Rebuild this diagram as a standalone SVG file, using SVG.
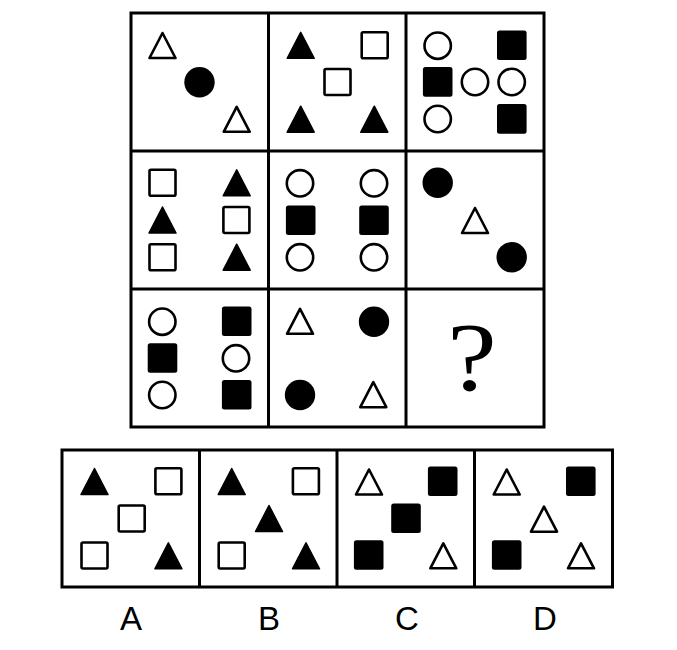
<svg xmlns="http://www.w3.org/2000/svg" xmlns:xlink="http://www.w3.org/1999/xlink" width="677" height="650" viewBox="0 0 677 650">
<style>
.frame{fill:none;stroke:#000;stroke-width:3}
.line{stroke:#000;stroke-width:3}
.lbl{font-family:"Liberation Sans","Noto Sans",sans-serif;font-size:33px;fill:#000;text-anchor:middle}
.q{font-family:"Liberation Serif","DejaVu Serif",serif;font-size:97px;fill:#000;text-anchor:middle}
</style>
<defs>
<polygon id="to" points="0,-12.5 13,12.5 -13,12.5" fill="#fff" stroke="#000" stroke-width="2.6" stroke-linejoin="round"/>
<polygon id="tf" points="0,-13 13.5,13 -13.5,13" fill="#000" stroke="#000" stroke-width="1.5" stroke-linejoin="round"/>
<rect id="so" x="-13" y="-13" width="26" height="26" rx="1.5" fill="#fff" stroke="#000" stroke-width="2.6"/>
<rect id="sf" x="-14.8" y="-14.8" width="29.6" height="29.6" rx="2.5" fill="#000"/>
<circle id="co" r="13.2" fill="#fff" stroke="#000" stroke-width="2.6"/>
<circle id="cf" r="15.2" fill="#000"/>
</defs>
<rect width="677" height="650" fill="#fff"/>

<g id="grid">
<rect class="frame" x="131" y="13" width="413" height="414"/>
<line class="line" x1="268.5" y1="13" x2="268.5" y2="427"/>
<line class="line" x1="406" y1="13" x2="406" y2="427"/>
<line class="line" x1="131" y1="151" x2="544" y2="151"/>
<line class="line" x1="131" y1="289" x2="544" y2="289"/>
</g>

<g id="cell-1-1">
<use xlink:href="#to" x="162.5" y="45.5"/>
<use xlink:href="#cf" x="199.5" y="82.3"/>
<use xlink:href="#to" x="236.7" y="119.3"/>
</g>
<g id="cell-1-2">
<use xlink:href="#tf" x="300.7" y="45.3"/>
<use xlink:href="#so" x="374.7" y="45.2"/>
<use xlink:href="#so" x="337.5" y="82"/>
<use xlink:href="#tf" x="300.7" y="119.2"/>
<use xlink:href="#tf" x="374.3" y="119.2"/>
</g>
<g id="cell-1-3">
<use xlink:href="#co" x="437.7" y="45.7"/>
<use xlink:href="#sf" x="511.8" y="45.2"/>
<use xlink:href="#sf" x="437.7" y="81.9"/>
<use xlink:href="#co" x="475" y="82"/>
<use xlink:href="#co" x="511.7" y="82"/>
<use xlink:href="#co" x="437.7" y="119"/>
<use xlink:href="#sf" x="511.8" y="118.9"/>
</g>
<g id="cell-2-1">
<use xlink:href="#so" x="162.5" y="182.8"/>
<use xlink:href="#tf" x="236.7" y="182.8"/>
<use xlink:href="#tf" x="162.5" y="220"/>
<use xlink:href="#so" x="236.4" y="220"/>
<use xlink:href="#so" x="162.5" y="257.2"/>
<use xlink:href="#tf" x="236.7" y="257.2"/>
</g>
<g id="cell-2-2">
<use xlink:href="#co" x="300" y="183.3"/>
<use xlink:href="#co" x="374" y="183.3"/>
<use xlink:href="#sf" x="300.7" y="220.3"/>
<use xlink:href="#sf" x="374" y="220.3"/>
<use xlink:href="#co" x="300" y="257.3"/>
<use xlink:href="#co" x="374" y="257.3"/>
</g>
<g id="cell-2-3">
<use xlink:href="#cf" x="437.7" y="182.7"/>
<use xlink:href="#to" x="475" y="220.5"/>
<use xlink:href="#cf" x="511.7" y="257.3"/>
</g>
<g id="cell-3-1">
<use xlink:href="#co" x="162.3" y="321.7"/>
<use xlink:href="#sf" x="236.7" y="321.3"/>
<use xlink:href="#sf" x="162.5" y="358"/>
<use xlink:href="#co" x="236" y="358.3"/>
<use xlink:href="#co" x="162.3" y="395"/>
<use xlink:href="#sf" x="236.7" y="394.7"/>
</g>
<g id="cell-3-2">
<use xlink:href="#to" x="300" y="321.3"/>
<use xlink:href="#cf" x="374" y="321.7"/>
<use xlink:href="#cf" x="300" y="395"/>
<use xlink:href="#to" x="373.3" y="394.7"/>
</g>
<g id="cell-3-3">
<text class="q" transform="translate(472,390) scale(1.15,1)">?</text>
</g>

<g id="options">
<rect class="frame" x="62" y="450" width="550.5" height="137"/>
<line class="line" x1="199.5" y1="450" x2="199.5" y2="587"/>
<line class="line" x1="337" y1="450" x2="337" y2="587"/>
<line class="line" x1="474.5" y1="450" x2="474.5" y2="587"/>
</g>

<g id="option-A">
<use xlink:href="#tf" x="94.5" y="481.5"/>
<use xlink:href="#so" x="168.4" y="481.2"/>
<use xlink:href="#so" x="131.7" y="518.5"/>
<use xlink:href="#so" x="94.5" y="555.5"/>
<use xlink:href="#tf" x="168.4" y="555.8"/>
<text class="lbl" x="131" y="629.5">A</text>
</g>
<g id="option-B">
<use xlink:href="#tf" x="231.7" y="481.5"/>
<use xlink:href="#so" x="305.9" y="481.2"/>
<use xlink:href="#tf" x="269" y="518.5"/>
<use xlink:href="#so" x="231.7" y="555.5"/>
<use xlink:href="#tf" x="306" y="555.8"/>
<text class="lbl" x="269" y="629.5">B</text>
</g>
<g id="option-C">
<use xlink:href="#to" x="369" y="482"/>
<use xlink:href="#sf" x="442.7" y="481.3"/>
<use xlink:href="#sf" x="406" y="518.3"/>
<use xlink:href="#sf" x="368.7" y="555"/>
<use xlink:href="#to" x="443.3" y="555.8"/>
<text class="lbl" x="407" y="629.5">C</text>
</g>
<g id="option-D">
<use xlink:href="#to" x="506.7" y="482"/>
<use xlink:href="#sf" x="580.8" y="481.3"/>
<use xlink:href="#to" x="544" y="519.2"/>
<use xlink:href="#sf" x="506.7" y="555"/>
<use xlink:href="#to" x="581" y="555.8"/>
<text class="lbl" x="545" y="629.5">D</text>
</g>
</svg>
